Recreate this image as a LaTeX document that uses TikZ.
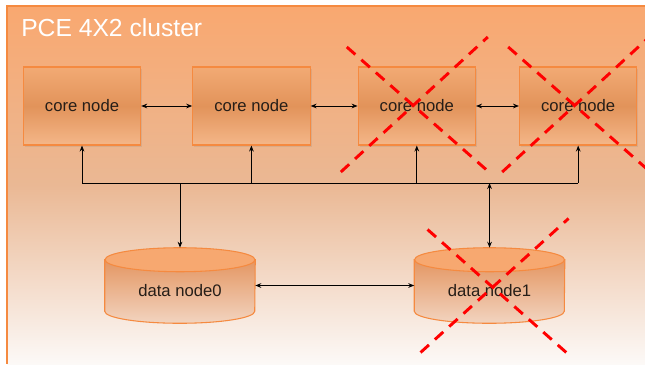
\documentclass[tikz,border=0pt]{standalone}
\usepackage{fontspec}
\setmainfont{Liberation Sans}
\usetikzlibrary{positioning, arrows.meta, shadows, backgrounds}

\definecolor{clusterTop}{RGB}{249,168,112}
\definecolor{clusterMid}{RGB}{234,184,148}
\definecolor{clusterBot}{RGB}{252,249,247}
\definecolor{edgeOrange}{RGB}{245,138,64}
\definecolor{coreLight}{RGB}{242,170,116}
\definecolor{coreDark}{RGB}{226,147,90}
\definecolor{cylTop}{RGB}{247,168,112}
\definecolor{cylBody}{RGB}{228,150,98}
\definecolor{cylBot}{RGB}{242,212,192}
\definecolor{textDark}{RGB}{38,30,24}

\begin{document}
\begin{tikzpicture}
% style
	[x=0.75pt, y=-0.75pt,
	>={Stealth[length=4.5pt, width=3.5pt]},
	link/.style={draw=black, line width=0.75pt},
	core/.style={rectangle, draw=edgeOrange, line width=0.8pt, top color=coreLight, bottom color=coreLight!85!white, middle color=coreDark, minimum width=88pt, minimum height=58.5pt, inner sep=0pt, text=textDark, font=\fontsize{12.5}{14}\selectfont, drop shadow={shadow xshift=1.2pt, shadow yshift=-1.2pt, opacity=0.18}},
	data/.style={rectangle, minimum width=112.5pt, minimum height=56.25pt, inner sep=0pt, text height=16pt, text depth=0pt, text=textDark, font=\fontsize{12.5}{14}\selectfont},
	cylside/.style={draw=edgeOrange, line width=0.8pt, top color=cylBody, bottom color=cylBot},
	cyltop/.style={draw=edgeOrange, line width=0.8pt, fill=cylTop},
	cluster/.style={top color=clusterTop, bottom color=clusterBot, middle color=clusterMid},
	frame/.style={draw=edgeOrange, line width=1.1pt},
	title/.style={anchor=west, inner sep=0pt, text=white, font=\fontsize{18.5}{20}\selectfont},
	gone/.style={draw=red, line width=2.2pt, dash pattern=on 8.5pt off 6pt}]

	\useasboundingbox (0,0) rectangle (645,364);

	% title
	\node [title] (title) at (21,28) {PCE 4X2 cluster};

	% core nodes
	\node [core] (core1) at (82,106) {core node};
	\node [core] (core2) [right=38.25pt of core1] {core node};
	\node [core] (core3) [right=35.25pt of core2] {core node};
	\node [core] (core4) [right=32.25pt of core3] {core node};

	% data nodes
	\node [data] (data0) at (180,285.5) {data node0};
	\node [data] (data1) [right=119.25pt of data0] {data node1};

	% cluster box and cylinders
	\begin{pgfonlayer}{background}
		\fill[white] (0,0) rectangle (645,364);
		\path[cluster] (7,6) rectangle (645,364);
		\draw[frame] (645,6) -- (7,6) -- (7,364);
		\foreach \d in {data0, data1} {
			\path[cylside] ([yshift=-9pt]\d.north west) -- ([yshift=9pt]\d.south west)
				arc[start angle=180, end angle=360, x radius=56.25pt, y radius=9pt]
				-- ([yshift=-9pt]\d.north east) -- cycle;
			\path[cyltop] ([yshift=-9pt]\d.north) ellipse[x radius=56.25pt, y radius=9pt];
		}
	\end{pgfonlayer}

	% links
	\coordinate (bus) at (0,183);
	\draw[link] (core1 |- bus) -- (core4 |- bus);
	\path[<->, link] (core1) edge (core2)
	                 (core2) edge (core3)
	                 (core3) edge (core4)
	                 (data0) edge (data1);
	\path[->, link] (core1 |- bus) edge (core1)
	                (core2 |- bus) edge (core2)
	                (core3 |- bus) edge (core3)
	                (core4 |- bus) edge (core4)
	                (data0 |- bus) edge (data0)
	                (data1 |- bus) edge (data1);

	% failed nodes
	\foreach \f in {core3, core4} {
		\draw[gone] ([shift={(-70,-59)}]\f.center) -- ([shift={(71,65)}]\f.center);
		\draw[gone] ([shift={(-76,66)}]\f.center) -- ([shift={(71,-69)}]\f.center);
	}
	\draw[gone] ([shift={(-62,-56)}]data1.center) -- ([shift={(79,69)}]data1.center);
	\draw[gone] ([shift={(-69,67)}]data1.center) -- ([shift={(79,-67)}]data1.center);
\end{tikzpicture}
\end{document}
